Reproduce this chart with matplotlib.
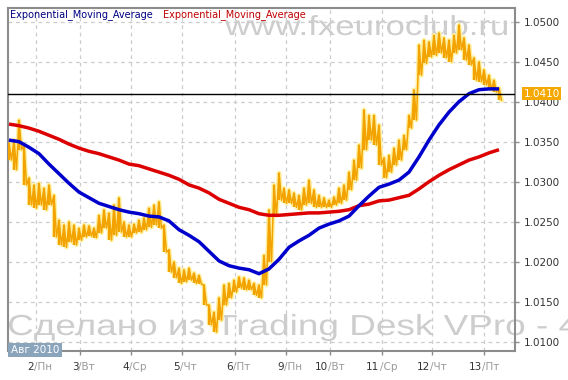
# EUR/USD style chart with two exponential moving averages
import numpy as np
import matplotlib
matplotlib.use('Agg')
import matplotlib.pyplot as plt
import matplotlib.transforms as mtransforms
from matplotlib.textpath import TextPath
from matplotlib.patches import PathPatch, Rectangle
from matplotlib.font_manager import FontProperties

# price bars (high / low), one bar per sample
price_high = [
    1.0348, 1.0352, 1.0377, 1.0346, 1.0305, 1.0296, 1.0298, 1.0292, 1.0296, 1.0283,
    1.0252, 1.0246, 1.0250, 1.0246, 1.0242, 1.0246, 1.0245, 1.0242, 1.0258, 1.0265,
    1.0261, 1.0271, 1.0280, 1.0250, 1.0246, 1.0247, 1.0252, 1.0255, 1.0267, 1.0271,
    1.0275, 1.0246, 1.0215, 1.0200, 1.0192, 1.0190, 1.0192, 1.0186, 1.0183, 1.0171,
    1.0146, 1.0137, 1.0155, 1.0171, 1.0173, 1.0177, 1.0181, 1.0180, 1.0177, 1.0173,
    1.0171, 1.0208, 1.0265, 1.0296, 1.0311, 1.0292, 1.0290, 1.0286, 1.0283, 1.0292,
    1.0302, 1.0290, 1.0283, 1.0280, 1.0277, 1.0281, 1.0292, 1.0296, 1.0312, 1.0327,
    1.0346, 1.0390, 1.0383, 1.0383, 1.0371, 1.0330, 1.0333, 1.0342, 1.0352, 1.0358,
    1.0383, 1.0415, 1.0471, 1.0477, 1.0475, 1.0483, 1.0486, 1.0480, 1.0477, 1.0483,
    1.0496, 1.0480, 1.0471, 1.0455, 1.0450, 1.0440, 1.0433, 1.0427, 1.0417]
price_low = [
    1.0327, 1.0315, 1.0340, 1.0296, 1.0271, 1.0267, 1.0271, 1.0265, 1.0271, 1.0231,
    1.0221, 1.0218, 1.0225, 1.0221, 1.0227, 1.0231, 1.0232, 1.0230, 1.0236, 1.0242,
    1.0227, 1.0233, 1.0237, 1.0231, 1.0231, 1.0236, 1.0237, 1.0240, 1.0243, 1.0246,
    1.0242, 1.0212, 1.0187, 1.0180, 1.0173, 1.0175, 1.0177, 1.0173, 1.0172, 1.0146,
    1.0121, 1.0112, 1.0127, 1.0146, 1.0155, 1.0162, 1.0167, 1.0165, 1.0165, 1.0158,
    1.0155, 1.0171, 1.0200, 1.0258, 1.0277, 1.0273, 1.0273, 1.0268, 1.0265, 1.0271,
    1.0273, 1.0268, 1.0268, 1.0268, 1.0268, 1.0271, 1.0273, 1.0277, 1.0290, 1.0302,
    1.0317, 1.0340, 1.0352, 1.0346, 1.0321, 1.0305, 1.0312, 1.0321, 1.0327, 1.0340,
    1.0367, 1.0377, 1.0433, 1.0448, 1.0456, 1.0458, 1.0461, 1.0455, 1.0450, 1.0461,
    1.0465, 1.0452, 1.0446, 1.0427, 1.0425, 1.0421, 1.0415, 1.0412, 1.0402]

# moving averages, sampled every second bar
ema_fast = [
    1.0352, 1.0350, 1.0343, 1.0335, 1.0322, 1.0310, 1.0298, 1.0287, 1.0280, 1.0273,
    1.0269, 1.0265, 1.0262, 1.0260, 1.0257, 1.0256, 1.0251, 1.0240, 1.0233, 1.0225,
    1.0213, 1.0201, 1.0195, 1.0192, 1.0190, 1.0185, 1.0191, 1.0203, 1.0218, 1.0226,
    1.0233, 1.0242, 1.0247, 1.0251, 1.0257, 1.0270, 1.0282, 1.0293, 1.0297, 1.0302,
    1.0312, 1.0331, 1.0352, 1.0371, 1.0387, 1.0400, 1.0410, 1.0415, 1.0416, 1.0416]
ema_slow = [
    1.0372, 1.0370, 1.0367, 1.0363, 1.0358, 1.0353, 1.0347, 1.0342, 1.0338, 1.0335,
    1.0331, 1.0327, 1.0322, 1.0320, 1.0316, 1.0312, 1.0308, 1.0303, 1.0296, 1.0292,
    1.0286, 1.0278, 1.0273, 1.0268, 1.0265, 1.0260, 1.0258, 1.0258, 1.0259, 1.0260,
    1.0261, 1.0261, 1.0262, 1.0263, 1.0265, 1.0270, 1.0272, 1.0276, 1.0277, 1.0280,
    1.0283, 1.0291, 1.0300, 1.0308, 1.0315, 1.0321, 1.0327, 1.0331, 1.0336, 1.0340]

day_pos = [5.3, 14.28, 24.4, 34.6, 45.2, 55.3, 64.2, 74.5, 84.6, 95.0]
day_num = ['2', '3', '4', '5', '6', '9', '10', '11', '12', '13']
day_name = ['Пн', 'Вт', 'Ср', 'Чт', 'Пт', 'Пн', 'Вт', 'Ср', 'Чт', 'Пт']
y_ticks = [1.0100, 1.0150, 1.0200, 1.0250, 1.0300, 1.0350, 1.0400, 1.0450, 1.0500]
last_price = 1.0410

W, H = 568, 380
fig = plt.figure(figsize=(W / 100, H / 100), dpi=100)
fig.patch.set_facecolor('white')
ax = fig.add_axes([8 / W, (H - 351) / H, (515 - 8) / W, (351 - 8) / H])
ax.patch.set_visible(False)


def watermark(s, x0, x1, base, height):
    # text stretched into a pixel box, drawn behind the axes
    tp = TextPath((0, 0), s, size=100, prop=FontProperties(family='Liberation Sans'))
    ext = tp.get_extents()
    sx = (x1 - x0) / ext.width
    sy = height / ext.y1
    tr = (mtransforms.Affine2D().translate(-ext.x0, 0).scale(sx, sy)
          .translate(x0, H - base).scale(1 / 100) + fig.dpi_scale_trans)
    fig.add_artist(PathPatch(tp, transform=tr, fc='#cdcdcd', ec='none', zorder=-1))


watermark('www.fxeuroclub.ru', 225, 507, 35, 20)
watermark('Сделано из Trading Desk VPro - 4', 9, 578, 335, 21)

x = np.arange(len(price_high))
xe = np.arange(0, len(price_high), 2)
ph = np.array(price_high)
pl = np.array(price_low)

# saw-tooth through the bar ends gives the dense jagged look of tick bars
zx = np.repeat(x, 2).astype(float)
zx[1::2] += 0.5
zy = np.empty(2 * len(x))
zy[0::2] = ph
zy[1::2] = pl

ax.plot(zx, zy, color='#fff0a0', lw=3.2, zorder=2)
ax.vlines(x, pl, ph, color='#fff0a0', lw=3.2, zorder=2)
ax.plot(zx, zy, color='#f3a300', lw=1.1, zorder=3)
ax.vlines(x, pl, ph, color='#f3a300', lw=1.6, zorder=3)

ax.plot(xe, ema_slow, color='#dd0000', lw=2.5, zorder=4, solid_capstyle='butt')
ax.plot(xe, ema_fast, color='#0000cc', lw=2.5, zorder=5, solid_capstyle='butt')
ax.axhline(last_price, color='black', lw=1, zorder=6)

ax.set_xlim(-0.2, 101.2)
ax.set_ylim(1.00884, 1.05171)

for s in ax.spines.values():
    s.set_color('#8c8c8c')
    s.set_linewidth(1.5)

ax.set_xticks(day_pos)
ax.set_xticklabels([])
ax.tick_params(axis='x', length=3, color='#8c8c8c', width=1)
ax.yaxis.tick_right()
ax.set_yticks(y_ticks)
ax.set_yticklabels(['%.4f' % v for v in y_ticks])
ax.tick_params(axis='y', length=3, pad=3, color='#8c8c8c', width=1,
               labelsize=7.5, labelcolor='#333333')
ax.grid(True, color='#cccccc', lw=0.9, linestyle=(0, (3, 3)), zorder=1)
ax.set_axisbelow(True)

# day labels: number dark, "/weekday" grey
trans = mtransforms.blended_transform_factory(ax.transData, ax.transAxes)
shift = mtransforms.ScaledTranslation(-2 / 100, -16 / 100, fig.dpi_scale_trans)
for p, n, d in zip(day_pos, day_num, day_name):
    ax.text(p, 0, n, transform=trans + shift, ha='right', va='center',
            fontsize=7.5, color='#333333', clip_on=False)
    ax.text(p, 0, '/' + d, transform=trans + shift, ha='left', va='center',
            fontsize=7.5, color='#999999', clip_on=False)

# current price tag
tag = mtransforms.blended_transform_factory(ax.transAxes, ax.transData)
ax.text(1, last_price, '%.4f' % last_price,
        transform=tag + mtransforms.ScaledTranslation(8.5 / 100, 0, fig.dpi_scale_trans),
        ha='left', va='center', fontsize=7.5, color='white', zorder=7, clip_on=False,
        bbox=dict(boxstyle='square,pad=0.15', fc='#f5a800', ec='none'))

# month box
fig.add_artist(Rectangle((8 / W, (H - 357) / H), 54 / W, 14 / H, transform=fig.transFigure,
                         fc='#8aa4bc', ec='none', zorder=5))
fig.text(35 / W, (H - 350) / H, 'Авг 2010', ha='center', va='center',
         fontsize=7.5, color='white', zorder=6)

# legend
fig.text(10 / W, 1 - 15 / H, 'Exponential_Moving_Average', color='#000080',
         fontsize=7, va='center', zorder=6)
fig.text(163 / W, 1 - 15 / H, 'Exponential_Moving_Average', color='#c00000',
         fontsize=7, va='center', zorder=6)

fig.savefig('out.png', dpi=100, facecolor='white')
